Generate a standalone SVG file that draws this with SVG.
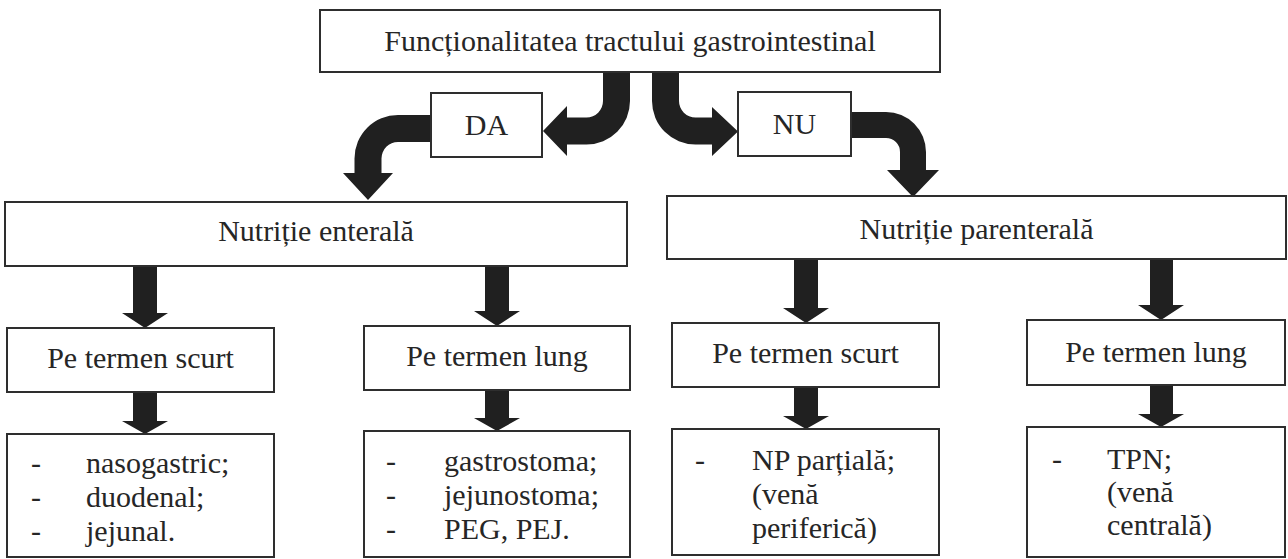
<svg xmlns="http://www.w3.org/2000/svg" width="1288" height="559" viewBox="0 0 1288 559">
<style>
.box{fill:#fff;stroke:#2e2e2e;stroke-width:2}
.t{font-family:'Liberation Serif','DejaVu Serif','Times New Roman',serif;font-size:30px;fill:#262626}
.c{text-anchor:middle}
.arr{fill:#202020;stroke:none}
</style>
<rect width="1288" height="559" fill="#fff"/>
<g id="connectors">
<path class="arr" d="M630,72 L630,101 A43.5,43.5 0 0 1 586.5,144.5 L567,144.5 L567,156 L543,131 L567,106 L567,117.5 L586.5,117.5 A16.5,16.5 0 0 0 603,101 L603,72 Z"/>
<path class="arr" d="M652,72 L652,101 A43.5,43.5 0 0 0 695.5,144.5 L712,144.5 L712,156 L738,131.5 L712,107 L712,117.5 L695.5,117.5 A16.5,16.5 0 0 1 679,101 L679,72 Z"/>
<path class="arr" d="M431,115 L398,115 A43.5,43.5 0 0 0 354.5,158.5 L354.5,173 L343,173 L368,200 L393,173 L381.5,173 L381.5,158.5 A16.5,16.5 0 0 1 398,142 L431,142 Z"/>
<path class="arr" d="M851,112 L886,112 A40,40 0 0 1 926,152 L926,170 L939,170 L913,197 L887,170 L900,170 L900,152 A14,14 0 0 0 886,138 L851,138 Z"/>
<path class="arr" d="M133,266 L157,266 L157,313 L168,313 L145,328 L122,313 L133,313 Z"/>
<path class="arr" d="M485,265 L509,265 L509,311 L520,311 L497,326 L474,311 L485,311 Z"/>
<path class="arr" d="M794,260 L818,260 L818,308 L829,308 L806,323 L783,308 L794,308 Z"/>
<path class="arr" d="M1150,258 L1173,258 L1173,305 L1184,305 L1161,320 L1138,305 L1150,305 Z"/>
<path class="arr" d="M133,392 L157,392 L157,421 L168,421 L145,434 L122,421 L133,421 Z"/>
<path class="arr" d="M485,390 L509,390 L509,418 L520,418 L497,431 L474,418 L485,418 Z"/>
<path class="arr" d="M794,387 L818,387 L818,416 L829,416 L806,429 L783,416 L794,416 Z"/>
<path class="arr" d="M1150,385 L1173,385 L1173,414 L1184,414 L1161,427 L1138,414 L1150,414 Z"/>
</g>
<g id="n-root"><rect class="box" x="320" y="10" width="620" height="62"/><text class="t c" x="630" y="51">Funcționalitatea tractului gastrointestinal</text></g>
<g id="n-da"><rect class="box" x="431" y="93" width="111" height="64"/><text class="t c" x="486.5" y="135">DA</text></g>
<g id="n-nu"><rect class="box" x="738" y="92" width="113" height="64"/><text class="t c" x="794.5" y="134">NU</text></g>
<g id="n-enterala"><rect class="box" x="5" y="202" width="622" height="64"/><text class="t c" x="316" y="241">Nutriție enterală</text></g>
<g id="n-parenterala"><rect class="box" x="667" y="196" width="619" height="63"/><text class="t c" x="976.5" y="239">Nutriție parenterală</text></g>
<g id="n-e-scurt"><rect class="box" x="7" y="328" width="267" height="64"/><text class="t c" x="140.5" y="368">Pe termen scurt</text></g>
<g id="n-e-lung"><rect class="box" x="364" y="326" width="266" height="64"/><text class="t c" x="497" y="366">Pe termen lung</text></g>
<g id="n-p-scurt"><rect class="box" x="672" y="323" width="267" height="64"/><text class="t c" x="805.5" y="363">Pe termen scurt</text></g>
<g id="n-p-lung"><rect class="box" x="1027" y="320" width="258" height="65"/><text class="t c" x="1156" y="362">Pe termen lung</text></g>
<g id="n-e-scurt-list"><rect class="box" x="7" y="434" width="267" height="123"/>
<text class="t"><tspan x="31" y="473">-</tspan><tspan x="86">nasogastric;</tspan><tspan x="31" y="507">-</tspan><tspan x="86">duodenal;</tspan><tspan x="31" y="541">-</tspan><tspan x="86">jejunal.</tspan></text></g>
<g id="n-e-lung-list"><rect class="box" x="364" y="431" width="266" height="126"/>
<text class="t"><tspan x="386" y="471">-</tspan><tspan x="444">gastrostoma;</tspan><tspan x="386" y="505">-</tspan><tspan x="444">jejunostoma;</tspan><tspan x="386" y="539">-</tspan><tspan x="444">PEG, PEJ.</tspan></text></g>
<g id="n-p-scurt-list"><rect class="box" x="672" y="429" width="267" height="126"/>
<text class="t"><tspan x="695" y="470">-</tspan><tspan x="752">NP parțială;</tspan><tspan x="752" y="504">(venă</tspan><tspan x="752" y="538">periferică)</tspan></text></g>
<g id="n-p-lung-list"><rect class="box" x="1027" y="427" width="258" height="130"/>
<text class="t"><tspan x="1052" y="469">-</tspan><tspan x="1107">TPN;</tspan><tspan x="1107" y="502">(venă</tspan><tspan x="1107" y="535">centrală)</tspan></text></g>
</svg>
